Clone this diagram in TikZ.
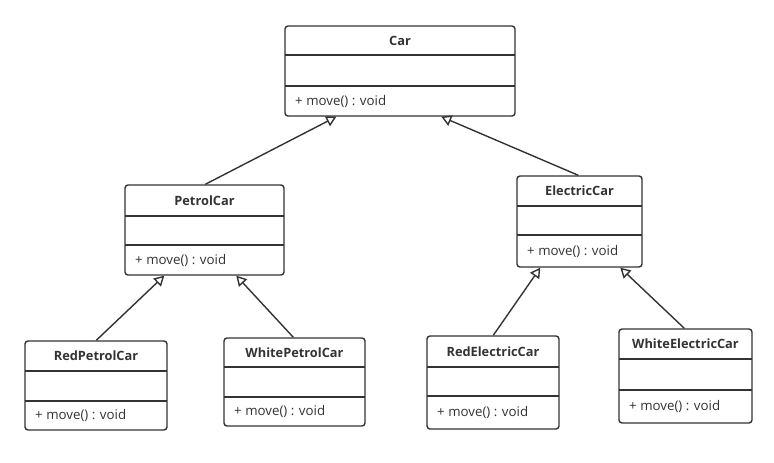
\documentclass[tikz,border=0pt]{standalone}
\usepackage{fontspec}
\setmainfont{Open Sans}[BoldFont={Open Sans Bold}]
\usetikzlibrary{arrows.meta,calc}
\definecolor{ink}{HTML}{333333}
\tikzset{
  cls/.style={draw=ink, line width=1.4pt, rounded corners=3pt, fill=white, inner sep=0pt},
  sepline/.style={draw=ink, line width=1.4pt},
  ctitle/.style={font=\bfseries\fontsize{12.8}{14}\selectfont, text=ink, inner sep=0pt},
  cmeth/.style={font=\fontsize{13.3}{15}\selectfont, text=ink, inner sep=0pt, anchor=west},
  inh/.style={draw=ink, line width=1.4pt, -{Triangle[open, length=10pt, width=11pt, fill=white]}}
}
\newcommand\umlbox[8]{%
  \node[cls, minimum width={(#4-#2)*1pt}, minimum height={(#5-#3)*1pt}] (#1) at ({(#2+#4)/2},{(#3+#5)/2}) {};
  \draw[sepline] (#2,#6) -- (#4,#6);
  \draw[sepline] (#2,#7) -- (#4,#7);
  \node[ctitle] (#1-t) at ({(#2+#4)/2},{(#3+#6)/2}) {#8};
  \node[cmeth] (#1-m) at ({#2+10},{(#7+#5)/2}) {+ move() : void};
}
\begin{document}
\begin{tikzpicture}[x=1pt,y=-1pt]
\useasboundingbox (0,0) rectangle (774,463);
\umlbox{car}{285}{26}{515}{116}{55}{86}{Car}
\umlbox{pc}{125}{185}{284}{275}{216}{245}{PetrolCar}
\umlbox{ec}{517}{176}{642}{267}{206}{235}{ElectricCar}
\umlbox{rpc}{25}{341}{167}{430}{371}{401}{RedPetrolCar}
\umlbox{wpc}{224}{338}{365}{426}{367}{397}{WhitePetrolCar}
\umlbox{rec}{427}{336}{559}{429}{367}{396}{RedElectricCar}
\umlbox{wec}{619}{329}{752}{423}{359}{390}{WhiteElectricCar}
\draw[inh] ($(pc.north west)+(81,0)$) -- ($(car.south west)+(52,0)$);
\draw[inh] ($(ec.north west)+(62,0)$) -- ($(car.south west)+(157,0)$);
\draw[inh] ($(rpc.north west)+(72,0)$) -- ($(pc.south west)+(40,0)$);
\draw[inh] ($(wpc.north west)+(70,0)$) -- ($(pc.south west)+(112,0)$);
\draw[inh] ($(rec.north west)+(67,0)$) -- ($(ec.south west)+(24,0)$);
\draw[inh] ($(wec.north west)+(66,0)$) -- ($(ec.south west)+(104,0)$);
\end{tikzpicture}
\end{document}
